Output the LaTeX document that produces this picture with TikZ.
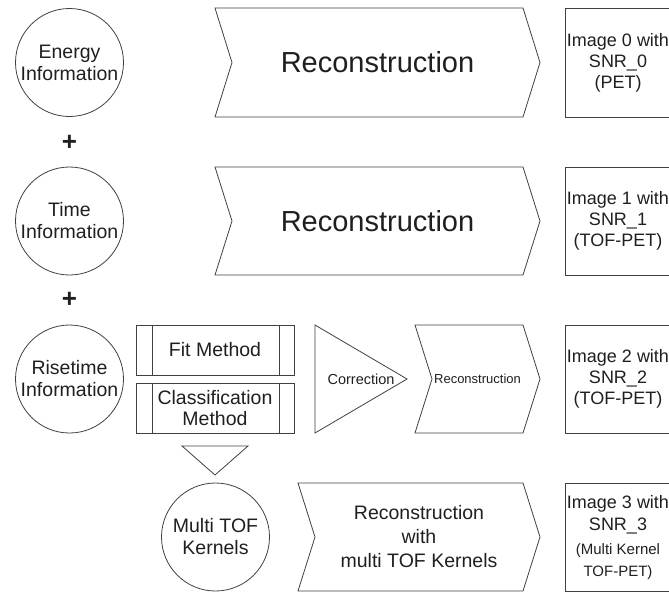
\documentclass[tikz,border=0pt]{standalone}
\usepackage{fontspec}
\setmainfont{Liberation Sans}
\begin{document}
\begin{tikzpicture}[x=1pt,y=-1pt,
  every node/.style={text=black!88, inner sep=0pt, outer sep=0pt},
  ln/.style={draw=black!75, line width=0.8pt},
  circ/.style={ln, circle, minimum size=108pt, align=center, font=\fontsize{19.5}{22}\selectfont},
  imgbox/.style={ln, rectangle, minimum width=106pt, minimum height=108pt, align=center, font=\fontsize{18}{21}\selectfont},
  procbox/.style={ln, rectangle, minimum width=158pt, minimum height=50pt, align=center, font=\fontsize{19.5}{21}\selectfont},
  chevarea/.style={rectangle, minimum height=108pt, align=center},
  plussign/.style={font=\fontsize{26}{26}\selectfont\bfseries}
]
\useasboundingbox (0,0) rectangle (669,592);

% circles
\node[circ] (energy) at (69.5,62.5) {Energy\\Information};
\node[circ] (time) at (69.5,221) {Time\\Information};
\node[circ] (rise) at (69.5,379) {Risetime\\Information};
\node[circ] (multi) at (215.5,537) {Multi TOF\\Kernels};

% plus signs
\node[plussign] (plus1) at (69.5,143) {+};
\node[plussign] (plus2) at (69.5,300) {+};

% chevrons (reconstruction)
\node[chevarea, minimum width=325pt, minimum height=109pt, font=\fontsize{29}{34}\selectfont] (rec0) at (377.5,62.5) {Reconstruction};
\node[chevarea, minimum width=325pt, font=\fontsize{29}{34}\selectfont] (rec1) at (377.5,221) {Reconstruction};
\node[chevarea, minimum width=125pt, font=\fontsize{13}{15}\selectfont] (rec2) at (477.5,379) {Reconstruction};
\node[chevarea, minimum width=242pt, font=\fontsize{19.5}{24}\selectfont] (rec3) at (419,537) {Reconstruction\\with\\multi TOF Kernels};
\foreach \n in {rec0,rec1,rec2,rec3}{
  \draw[ln] (\n.north west) -- ([xshift=-17pt]\n.north east) -- (\n.east)
    -- ([xshift=-17pt]\n.south east) -- (\n.south west) -- ([xshift=17pt]\n.west) -- cycle;
}

% image boxes
\node[imgbox, minimum height=109pt] (img0) at (618,62.5) {Image 0 with\\SNR\_0\\(PET)};
\node[imgbox] (img1) at (618,221) {Image 1 with\\SNR\_1\\(TOF-PET)};
\node[imgbox] (img2) at (618,379) {Image 2 with\\SNR\_2\\(TOF-PET)};
\node[imgbox] (img3) at (618,537) {};
\node[align=center, font=\fontsize{18}{22}\selectfont] (img3t) at (618,538)
  {Image 3 with\\SNR\_3\\[2pt]{\fontsize{15}{20}\selectfont (Multi Kernel}\\{\fontsize{15}{20}\selectfont TOF-PET)}};

% method boxes
\node[procbox] (fit) at (215,350) {Fit Method};
\node[procbox] (cls) at (215,408) {Classification\\Method};
\foreach \n in {fit,cls}{
  \draw[ln] ([xshift=16.5pt]\n.north west) -- ([xshift=16.5pt]\n.south west);
  \draw[ln] ([xshift=-15pt]\n.north east) -- ([xshift=-15pt]\n.south east);
}

% correction triangle
\node[rectangle, minimum width=92pt, minimum height=108pt, font=\fontsize{14.5}{16}\selectfont] (corr) at (361,379) {Correction};
\draw[ln] (corr.north west) -- (corr.east) -- (corr.south west) -- cycle;

% down triangle
\node[rectangle, minimum width=66pt, minimum height=29pt] (down) at (215,460.5) {};
\draw[ln] (down.north west) -- (down.north east) -- (down.south) -- cycle;
\end{tikzpicture}
\end{document}
